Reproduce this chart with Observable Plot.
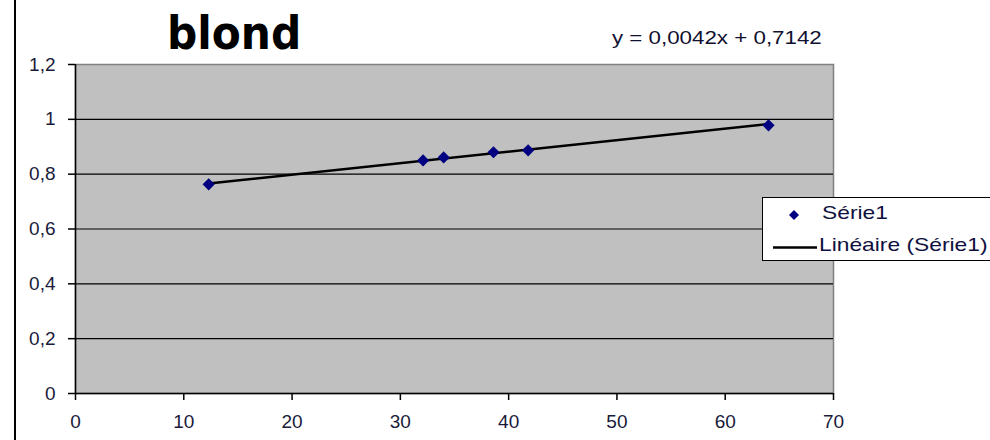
<!DOCTYPE html>
<html>
<head>
<meta charset="utf-8">
<script src="https://cdn.jsdelivr.net/npm/d3@7"></script>
<script src="https://cdn.jsdelivr.net/npm/@observablehq/plot@0.6"></script>
<style>
  body { margin: 0; background: #fff; font-family: "Liberation Sans", Arial, sans-serif; }
  #wrap { position: relative; width: 990px; height: 440px; overflow: hidden; }
  #chart { position: absolute; left: 0; top: 0; }
  .title { position: absolute; left: 167px; top: 9px; font: bold 47px "DejaVu Sans", sans-serif; color: #000; line-height: 1; transform: scaleX(0.9); transform-origin: left top; }
  .eq { position: absolute; left: 612px; top: 28px; font-size: 18px; color: #101030; white-space: nowrap; transform: scaleX(1.24); transform-origin: left top; line-height: 1.2; }
  .vline { position: absolute; left: 14px; top: 0; width: 2px; height: 440px; background: #000; }
  .legend { position: absolute; left: 762px; top: 197px; width: 240px; height: 62px; background: #fff; border: 1.5px solid #000; font-size: 19px; color: #101040; }
  .legend .row { position: absolute; white-space: nowrap; transform: scaleX(1.2); transform-origin: left top; line-height: 1.2; }
</style>
</head>
<body>
<div id="wrap">
  <div id="chart"></div>
  <div class="vline"></div>
  <div class="title">blond</div>
  <div class="eq">y = 0,0042x + 0,7142</div>
  <div class="legend">
    <svg width="60" height="62" style="position:absolute;left:0;top:0">
      <path d="M31 12 L36 17 L31 22 L26 17 Z" fill="#000080"/>
      <line x1="10" x2="54" y1="49.5" y2="49.5" stroke="#000" stroke-width="2.5"/>
    </svg>
    <div class="row" style="left:59px;top:4px">Série1</div>
    <div class="row" style="left:56px;top:36px">Linéaire (Série1)</div>
  </div>
</div>
<script>
const xValues = [12.3, 32.1, 34.0, 38.6, 41.8, 64.0];
const yValues = [0.763, 0.850, 0.861, 0.880, 0.887, 0.978];
const trendX = [12.3, 64.0];
const trendY = [0.766, 0.983];
const xTicks = [0, 10, 20, 30, 40, 50, 60, 70];
const yTicks = [0, 0.2, 0.4, 0.6, 0.8, 1, 1.2];

const points = xValues.map((x, i) => ({x, y: yValues[i]}));
const trend = trendX.map((x, i) => ({x, y: trendY[i]}));
const fmt = d => String(d).replace(".", ",");

const chart = Plot.plot({
  width: 990,
  height: 440,
  marginLeft: 75,
  marginRight: 157,
  marginTop: 64,
  marginBottom: 47,
  style: { fontFamily: "Liberation Sans, Arial, sans-serif", fontSize: "19px", color: "#101040", background: "transparent" },
  x: { domain: [0, 70], ticks: xTicks },
  y: { domain: [0, 1.2], ticks: yTicks },
  marks: [
    Plot.frame({ fill: "#c0c0c0", stroke: "#808080", strokeWidth: 1.5 }),
    Plot.ruleY(yTicks.filter(d => d > 0 && d < 1.2), { stroke: "#000", strokeWidth: 1.2 }),
    Plot.ruleX([0], { stroke: "#000", strokeWidth: 1.5 }),
    Plot.ruleY([0], { stroke: "#000", strokeWidth: 1.5 }),
    Plot.axisY({ ticks: yTicks, tickFormat: fmt, tickSize: 7, tickPadding: 13, fontSize: 19, stroke: "#000", strokeWidth: 1.5, label: null, fill: "#1a1a3a" }),
    Plot.axisX({ ticks: xTicks, tickFormat: fmt, tickSize: 7, tickPadding: 14, fontSize: 19, stroke: "#000", strokeWidth: 1.5, label: null, fill: "#1a1a3a" }),
    Plot.line(trend, { x: "x", y: "y", stroke: "#000", strokeWidth: 2.5 }),
    Plot.dot(points, { x: "x", y: "y", symbol: "diamond2", r: 5.5, fill: "#000080", stroke: "none" })
  ]
});
document.getElementById("chart").appendChild(chart);
</script>
</body>
</html>
